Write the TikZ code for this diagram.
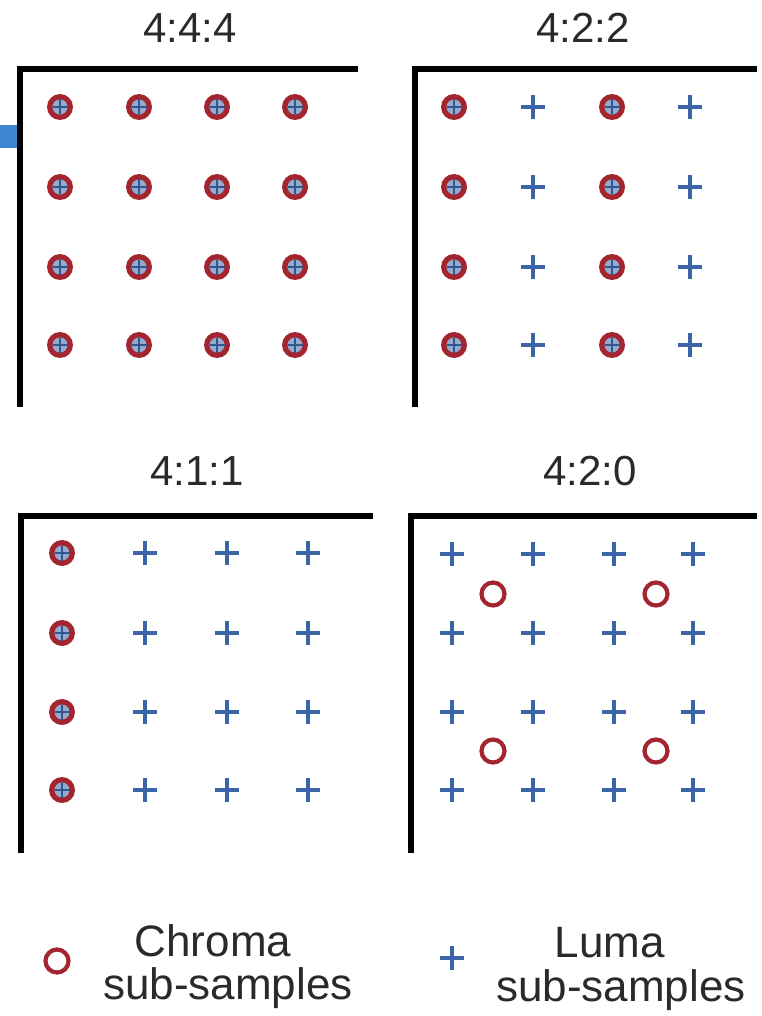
\documentclass[tikz,border=0pt]{standalone}
\usepackage{fontspec}
\setmainfont{Liberation Sans}
\definecolor{cred}{HTML}{A3252F}
\definecolor{cblue}{HTML}{3A66A8}
\definecolor{tabblue}{HTML}{3D85D0}
\definecolor{txt}{HTML}{2A2A2A}
\tikzset{
  frame/.style={line width=6pt, black, line join=miter},
  title/.style={text=txt, font=\fontsize{42}{46}\selectfont, inner sep=0pt},
  legtxt/.style={text=txt, font=\fontsize{44}{46}\selectfont, inner sep=0pt, align=center},
  chromaplus/.pic={
    \fill[cred] (0,0) circle (13);
    \fill[white!45!cblue] (0,0) circle (7.5);
    \draw[cblue!85!black, line width=2.8pt] (-7.5,0) -- (7.5,0) (0,-7.5) -- (0,7.5);
  },
  luma/.pic={
    \draw[cblue, line width=4.4pt] (-12,0) -- (12,0) (0,-12) -- (0,12);
  },
  chroma/.pic={
    \draw[cred, line width=4.2pt] (0,0) circle (11.5);
  }
}
\begin{document}
\begin{tikzpicture}[x=1pt, y=-1pt]
\useasboundingbox (0,0) rectangle (761,1016);
\fill[white] (0,0) rectangle (761,1016);
\fill[tabblue] (0,125) rectangle (17,148);

% titles
\node[title] (t1) at (190,28) {4:4:4};
\node[title] (t2) at (583,28) {4:2:2};
\node[title] (t3) at (197,471) {4:1:1};
\node[title] (t4) at (590,471) {4:2:0};

% frames
\draw[frame] (20,407) -- (20,69) -- (358,69);
\draw[frame] (415,407) -- (415,69) -- (757,69);
\draw[frame] (21,853) -- (21,516) -- (373,516);
\draw[frame] (411,853) -- (411,516) -- (757,516);

% 4:4:4
\foreach \y in {107,187,267,345}
  \foreach \x in {60,139,217,295}
    \pic at (\x,\y) {chromaplus};

% 4:2:2
\foreach \y in {107,187,267,345} {
  \pic at (454,\y) {chromaplus};
  \pic at (533,\y) {luma};
  \pic at (612,\y) {chromaplus};
  \pic at (690,\y) {luma};
}

% 4:1:1
\foreach \y in {553,633,712,790} {
  \pic at (62,\y) {chromaplus};
  \foreach \x in {145,227,308}
    \pic at (\x,\y) {luma};
}

% 4:2:0
\foreach \y in {554,633,712,790}
  \foreach \x in {452,533,614,693}
    \pic at (\x,\y) {luma};
\foreach \y in {594,751}
  \foreach \x in {493,656}
    \pic at (\x,\y) {chroma};

% legend
\pic at (57,961) {chroma};
\node[legtxt] (c1) at (213,941) {Chroma};
\node[legtxt] (c2) at (228,988) {sub-samples};
\pic at (452,958) {luma};
\node[legtxt] (l1) at (610,943) {Luma};
\node[legtxt] (l2) at (621,990) {sub-samples};
\end{tikzpicture}
\end{document}
